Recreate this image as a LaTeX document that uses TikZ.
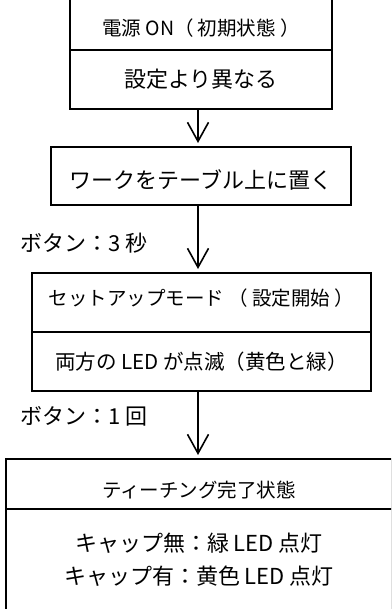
\documentclass[tikz,border=0pt]{standalone}
\usepackage{fontspec}
\setmainfont{Noto Sans CJK JP}
\usetikzlibrary{positioning,
	arrows.meta}

\tikzset{
	part/.style={draw, line width=1.1pt, inner sep=0pt, outer sep=0pt, align=center},
	small/.style={font=\fontsize{19.5}{23}\selectfont},
	big/.style={font=\fontsize{22}{26}\selectfont},
	textbox/.style 2 args={text height=#1, text depth=#2},
	flow/.style={line width=1.6pt, -{Straight Barb[length=19pt, width=21pt]}, shorten >=4pt},
	lbl/.style={big, anchor=west, inner sep=0pt}
}

\begin{document}
\begin{tikzpicture}[x=1pt, y=-1pt]
	\useasboundingbox (0, 0) rectangle (391, 609);
	\clip (0, 0) rectangle (391, 609);
	\coordinate (axis) at (198, 0);
	% power on
	\node[part, small, textbox={24pt}{2.5pt}, minimum width=262pt, minimum height=51pt] (pwr) at (201, 24.5) {電源 ON（ 初期状態 ）};
	\node[part, big, minimum width=262pt, minimum height=59pt, below=0pt of pwr] (dflt) {設定より異なる};
	% workpiece
	\node[part, big, textbox={29pt}{3pt}, minimum width=300pt, minimum height=58pt] (work) at (201, 176) {ワークをテーブル上に置く};
	% setup mode
	\node[part, small, textbox={17pt}{11.5pt}, minimum width=339pt, minimum height=59pt] (setup) at (201.5, 302.5) {セットアップモード （ 設定開始 ）};
	\node[part, font=\fontsize{20.5}{24}\selectfont, minimum width=339pt, minimum height=59pt, below=0pt of setup] (blink) {両方の LED が点滅（黄色と緑）};
	% teaching done
	\node[part, small, textbox={29pt}{2.5pt}, minimum width=386pt, minimum height=50pt] (done) at (199, 484) {ティーチング完了状態};
	\node[part, font=\fontsize{22}{33}\selectfont, minimum width=386pt, minimum height=101pt, below=0pt of done] (lamp) {キャップ無：緑 LED 点灯\\キャップ有：黄色 LED 点灯};

	\draw[flow] (dflt.south -| axis) -- (work.north -| axis);
	\draw[flow] (work.south -| axis) -- (setup.north -| axis);
	\draw[flow] (blink.south -| axis) -- (done.north -| axis);
	\node[lbl] (press3) at (20, 243) {ボタン：3 秒};
	\node[lbl] (press1) at (20, 416) {ボタン：1 回};
\end{tikzpicture}
\end{document}
